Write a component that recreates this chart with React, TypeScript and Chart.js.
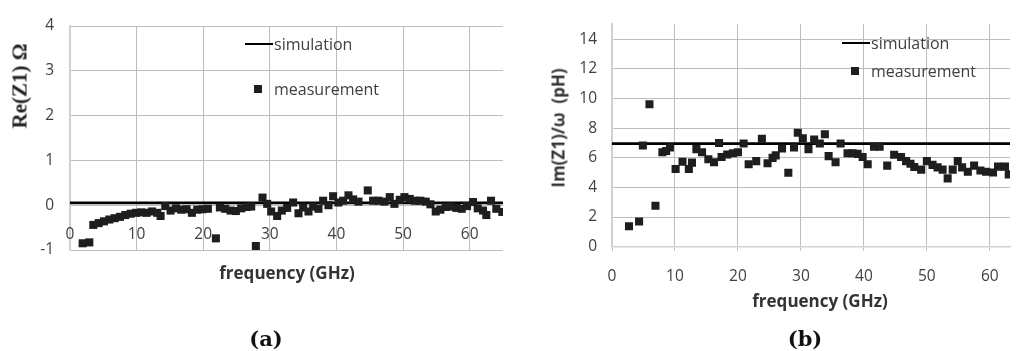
import React, { useEffect, useRef } from "react";
import { Chart, registerables } from "chart.js";
Chart.register(...registerables);

// ---- data: chart (a) Re(Z1) ----
const aFreq = [1.9, 2.9, 3.5, 4.3, 5.1, 5.9, 6.7, 7.5, 8.3, 9.1, 9.9, 10.7, 11.5, 12.3, 13.1, 13.6, 14.3, 15.1, 15.9, 16.7, 17.5, 18.3, 19.1, 19.9, 20.7, 21.9, 22.5, 23.3, 24.1, 24.9, 25.7, 26.5, 27.2, 27.9, 28.9, 29.6, 30.2, 31.1, 31.8, 32.6, 33.5, 34.3, 35.0, 35.8, 36.5, 37.3, 38.0, 38.8, 39.5, 40.3, 41.0, 41.8, 42.5, 43.3, 44.7, 45.5, 46.3, 47.2, 48.0, 48.7, 49.5, 50.2, 51.0, 51.8, 52.6, 53.4, 54.1, 54.9, 55.6, 56.4, 57.2, 58.0, 58.8, 59.6, 60.5, 61.2, 62.0, 62.5, 63.2, 64.0, 64.9];
const aMeas = [-0.85, -0.83, -0.44, -0.40, -0.36, -0.32, -0.29, -0.26, -0.22, -0.19, -0.17, -0.16, -0.17, -0.14, -0.17, -0.24, -0.02, -0.12, -0.07, -0.10, -0.09, -0.17, -0.10, -0.09, -0.08, -0.74, -0.05, -0.08, -0.12, -0.13, -0.07, -0.04, -0.03, -0.91, 0.17, 0.03, -0.14, -0.24, -0.12, -0.06, 0.06, -0.18, -0.05, -0.14, -0.03, -0.08, 0.10, 0.0, 0.20, 0.06, 0.10, 0.22, 0.13, 0.08, 0.33, 0.10, 0.10, 0.08, 0.18, 0.03, 0.12, 0.18, 0.14, 0.10, 0.10, 0.08, 0.02, -0.14, -0.10, -0.04, -0.03, -0.06, -0.08, -0.02, 0.07, -0.07, -0.12, -0.22, 0.10, -0.08, -0.15];
const aSimFreq = [0, 65];
const aSim = [0.05, 0.05];
const aXTicks = [0, 10, 20, 30, 40, 50, 60];
const aYTicks = [-1, 0, 1, 2, 3, 4];

// ---- data: chart (b) Im(Z1)/omega ----
const bFreq = [2.7, 4.3, 4.9, 5.95, 6.9, 8.0, 8.6, 9.2, 10.1, 11.2, 12.2, 12.7, 13.4, 14.3, 15.3, 16.2, 17.0, 17.4, 18.3, 19.2, 20.0, 20.9, 21.7, 22.9, 23.8, 24.7, 25.5, 26.0, 27.0, 28.0, 28.9, 29.5, 30.3, 31.2, 32.1, 33.0, 33.8, 34.4, 35.5, 36.3, 37.4, 38.2, 39.0, 39.8, 40.6, 41.6, 42.5, 43.7, 44.8, 45.9, 46.7, 47.4, 48.0, 49.1, 50.0, 50.9, 51.7, 52.5, 53.3, 54.1, 54.9, 55.6, 56.5, 57.5, 58.5, 59.4, 60.5, 61.3, 62.4, 63.0];
const bMeas = [1.38, 1.70, 6.83, 9.61, 2.76, 6.37, 6.45, 6.69, 5.24, 5.73, 5.24, 5.67, 6.58, 6.37, 5.90, 5.69, 7.00, 6.05, 6.22, 6.30, 6.37, 6.96, 5.56, 5.77, 7.28, 5.63, 5.99, 6.16, 6.62, 4.99, 6.69, 7.68, 7.32, 6.58, 7.22, 6.96, 7.58, 6.11, 5.69, 6.96, 6.30, 6.30, 6.26, 6.05, 5.56, 6.75, 6.75, 5.47, 6.20, 6.05, 5.77, 5.60, 5.37, 5.20, 5.77, 5.52, 5.35, 5.20, 4.61, 5.20, 5.77, 5.35, 5.05, 5.47, 5.14, 5.05, 5.00, 5.40, 5.40, 4.88];
const bSimFreq = [0, 63.2];
const bSim = [6.95, 6.95];
const bXTicks = [0, 10, 20, 30, 40, 50, 60];
const bYTicks = [0, 2, 4, 6, 8, 10, 12, 14];

const TXT = "#404040";
const GRID = "#bdbdbd";
const AXIS = "#d0d0d0";
const MARK = "#1e1e1e";
const SANS = "'Open Sans', Lato, sans-serif";
const TICK_FONT = 15.5;

function pts(xs: number[], ys: number[]) {
  return xs.map((x, i) => ({ x, y: ys[i] }));
}

type Cfg = {
  freq: number[]; meas: number[]; simF: number[]; sim: number[];
  xTicks: number[]; yTicks: number[];
  xMax: number; yMin: number; yMax: number;
  yAxisW: number; padTop: number; padRight: number; xAxisH: number;
  xTickPad: number; xTickLen: number; yTickPad: number; xBorder: boolean;
  innerXLabelY: number | null;
};

const innerLabels = {
  id: "innerXLabels",
  afterDraw(chart: any, _args: any, opts: any) {
    if (opts == null || opts.y == null) return;
    const ctx = chart.ctx;
    const xs = chart.scales.x;
    ctx.save();
    ctx.fillStyle = TXT;
    ctx.font = `${TICK_FONT}px ${SANS}`;
    ctx.textAlign = "center";
    ctx.textBaseline = "middle";
    for (const v of opts.values) {
      ctx.fillText(String(v), xs.getPixelForValue(v), opts.y);
    }
    ctx.restore();
  },
};

function ScatterChart({ cfg, width, height }: { cfg: Cfg; width: number; height: number }) {
  const ref = useRef<HTMLCanvasElement>(null);
  useEffect(() => {
    const c = cfg;
    const chart = new Chart(ref.current!, {
      type: "scatter",
      plugins: [innerLabels],
      data: {
        datasets: [
          {
            type: "line",
            data: pts(c.simF, c.sim),
            borderColor: "#000",
            borderWidth: 2.7,
            pointRadius: 0,
            fill: false,
            order: 1,
          } as any,
          {
            data: pts(c.freq, c.meas),
            pointStyle: "rect",
            pointRadius: 5.7,
            backgroundColor: MARK,
            borderColor: MARK,
            borderWidth: 0,
            order: 0,
          },
        ],
      },
      options: {
        animation: false,
        responsive: false,
        events: [],
        layout: { padding: { top: c.padTop, right: c.padRight, left: 0, bottom: 0 } },
        plugins: {
          legend: { display: false },
          tooltip: { enabled: false },
          innerXLabels: c.innerXLabelY == null ? { y: null } : { y: c.innerXLabelY, values: c.xTicks },
        },
        scales: {
          x: {
            type: "linear",
            min: 0,
            max: c.xMax,
            afterBuildTicks: (s: any) => { s.ticks = c.xTicks.map((v) => ({ value: v })); },
            afterFit: (s: any) => { s.height = c.xAxisH; },
            grid: {
              color: (ctx: any) => (ctx.tick && ctx.tick.value === 0 ? "rgba(0,0,0,0)" : GRID),
              borderDash: [3, 3],
              drawTicks: c.xTickLen > 0,
              tickLength: c.xTickLen,
              tickColor: GRID,
            } as any,
            border: { display: c.xBorder, color: AXIS, width: 1.5 },
            ticks: {
              display: c.innerXLabelY == null,
              color: TXT,
              font: { family: SANS, size: TICK_FONT },
              padding: c.xTickPad,
              maxRotation: 0,
              autoSkip: false,
            },
          },
          y: {
            type: "linear",
            min: c.yMin,
            max: c.yMax,
            afterBuildTicks: (s: any) => { s.ticks = c.yTicks.map((v) => ({ value: v })); },
            afterFit: (s: any) => { s.width = c.yAxisW; },
            grid: {
              color: GRID,
              borderDash: [3, 3],
              drawTicks: false,
            } as any,
            border: { display: true, color: AXIS, width: 2 },
            ticks: {
              color: TXT,
              font: { family: SANS, size: TICK_FONT },
              padding: c.yTickPad,
              autoSkip: false,
            },
          },
        },
      } as any,
    });
    return () => chart.destroy();
  }, [cfg]);
  return <canvas ref={ref} width={width} height={height} style={{ width, height, display: "block" }} />;
}

const cfgA: Cfg = {
  freq: aFreq, meas: aMeas, simF: aSimFreq, sim: aSim,
  xTicks: aXTicks, yTicks: aYTicks, xMax: 65, yMin: -1, yMax: 4,
  yAxisW: 70, padTop: 26, padRight: 12, xAxisH: 40,
  xTickPad: 0, xTickLen: 0, yTickPad: 16, xBorder: false,
  innerXLabelY: 235,
};
const cfgB: Cfg = {
  freq: bFreq, meas: bMeas, simF: bSimFreq, sim: bSim,
  xTicks: bXTicks, yTicks: bYTicks, xMax: 63.2, yMin: 0, yMax: 15,
  yAxisW: 92, padTop: 12, padRight: 0, xAxisH: 73.3,
  xTickPad: 17, xTickLen: 4, yTickPad: 15, xBorder: true,
  innerXLabelY: null,
};

const abs = (l: number, t: number, extra: React.CSSProperties = {}): React.CSSProperties => ({
  position: "absolute", left: l, top: t, whiteSpace: "nowrap", ...extra,
});
const centered = (x: number, y: number, extra: React.CSSProperties = {}): React.CSSProperties =>
  abs(x, y, { transform: "translate(-50%, -50%)", lineHeight: 1, ...extra });

function Legend({ lx, ly, sx, sy }: { lx: number; ly: number; sx: number; sy: number }) {
  const t: React.CSSProperties = { fontFamily: SANS, fontSize: 16, color: TXT };
  return (
    <>
      <div style={abs(lx, ly - 1.3, { width: 28, height: 2.7, background: "#000" })} />
      <div style={abs(lx + 29, ly, { ...t, transform: "translateY(-50%)", lineHeight: 1 })}>simulation</div>
      <div style={abs(sx - 4.2, sy - 4.2, { width: 8.4, height: 8.4, background: MARK })} />
      <div style={abs(lx + 29, sy, { ...t, transform: "translateY(-50%)", lineHeight: 1 })}>measurement</div>
    </>
  );
}

export default function App() {
  return (
    <div style={{ position: "fixed", left: 0, top: 0, width: 1016, height: 351, background: "#fff", overflow: "hidden" }}>
      <div style={abs(0, 0)}>
        <ScatterChart cfg={cfgA} width={515} height={290} />
      </div>
      <div style={abs(520, 0)}>
        <ScatterChart cfg={cfgB} width={496} height={320} />
      </div>

      {/* chart (a) texts */}
      <div style={centered(20, 86, { transform: "translate(-50%, -50%) rotate(-90deg)", fontFamily: "'Liberation Serif', serif", fontWeight: "bold", fontSize: 21, color: "#222" })}>Re(Z1) Ω</div>
      <div style={centered(287, 272, { fontFamily: SANS, fontWeight: "bold", fontSize: 17, color: "#333" })}>frequency (GHz)</div>
      <Legend lx={245} ly={44} sx={258} sy={89} />
      <div style={centered(266, 338, { fontFamily: "'DejaVu Serif', serif", fontWeight: "bold", fontSize: 21, color: "#111" })}>(a)</div>

      {/* chart (b) texts */}
      <div style={centered(558, 128, { transform: "translate(-50%, -50%) rotate(-90deg)", fontFamily: SANS, fontWeight: "bold", fontSize: 17, color: "#333", whiteSpace: "pre" })}>{"Im(Z1)/ω  (pH)"}</div>
      <div style={centered(820, 300, { fontFamily: SANS, fontWeight: "bold", fontSize: 17, color: "#333" })}>frequency (GHz)</div>
      <Legend lx={842} ly={43} sx={855} sy={71} />
      <div style={centered(805, 338, { fontFamily: "'DejaVu Serif', serif", fontWeight: "bold", fontSize: 21, color: "#111" })}>(b)</div>
    </div>
  );
}
